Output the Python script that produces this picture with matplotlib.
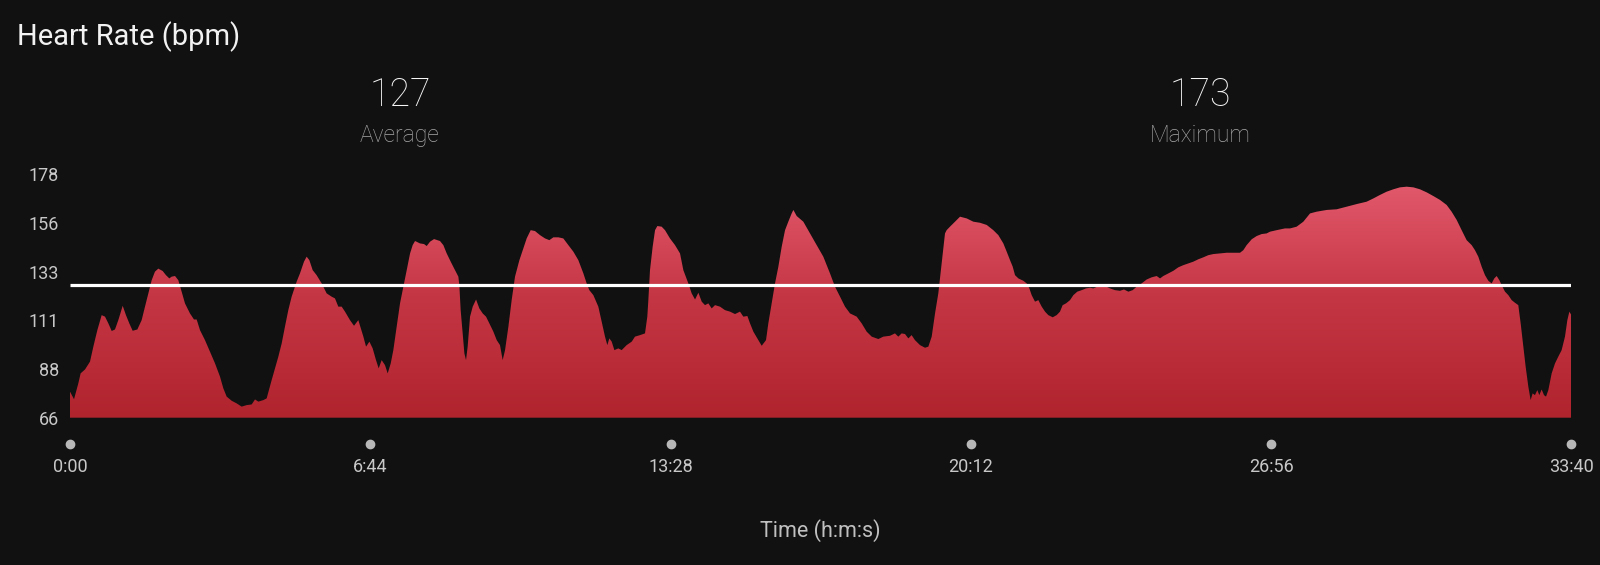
import numpy as np
import matplotlib.pyplot as plt
from matplotlib.colors import LinearSegmentedColormap
from matplotlib.patches import PathPatch
from matplotlib.transforms import blended_transform_factory

# heart rate samples (seconds, bpm)
time_s = [0, 5.4, 11.2, 14.3, 20.2, 26.9, 31.4, 36.8, 42.6, 47.1, 51.6, 56.1, 60.5, 65.0,
          70.9, 75.3, 79.8, 84.3, 90.6, 96.4, 100.9, 105.4, 109.9, 114.3, 118.8, 124.7,
          129.1, 133.6, 136.8, 141.3, 145.7, 150.2, 154.7, 161.4, 166.8, 170.4, 174.9,
          181.6, 188.3, 195.1, 201.8, 206.3, 210.8, 217.5, 224.2, 230.9, 237.7, 244.4,
          248.9, 253.4, 260.1, 264.6, 271.3, 275.8, 280.3, 284.8, 289.2, 293.7, 298.2,
          304.9, 309.4, 314.8, 318.4, 322.0, 326.5, 331.8, 338.6, 345.3, 352.0, 356.5,
          361.0, 365.5, 370.0, 376.7, 382.1, 387.9,
          394.7, 398.3, 402.8, 407.2, 411.7, 415.3, 419.3, 423.8, 427.4, 431.5, 435.0,
          439.5, 444.0, 448.5, 453.0, 457.5, 461.0, 464.2, 470.9, 476.3, 479.9, 484.4,
          489.8, 497.8, 502.3, 506.8, 512.2, 518.0, 522.5, 523.8, 525.6, 528.3, 530.6,
          532.8, 535.0, 538.2, 541.8, 546.3, 550.7, 555.2, 559.7, 564.2, 569.6, 574.1,
          578.5, 582.1, 585.3, 589.8, 594.2, 598.7, 604.6, 609.9, 614.4, 619.8, 625.6,
          632.4, 639.1, 644.9, 650.3, 657.0, 663.7, 670.5, 677.2, 683.9, 690.7, 695.1,
          698.7, 704.1, 710.8, 715.3, 719.8, 722.9, 725.6, 728.8, 732.4, 737.7, 742.2,
          748.9, 755.7, 760.1, 766.9, 773.6, 776.7, 778.1, 780.3, 783.9, 787.1, 790.2,
          796.0, 800.5, 807.2, 814.0, 820.7,
          825.2, 831.9, 836.4, 840.9, 845.4, 849.9, 854.3, 858.8, 863.3, 867.8, 874.5,
          881.2, 888.0, 894.7, 901.4, 905.9, 911.3, 914.9, 919.4, 924.7, 930.6, 936.4,
          939.5, 944.0, 948.5, 953.0, 957.5, 962.0, 966.4, 970.9, 973.2, 977.7, 986.6,
          995.6, 1004.6, 1013.5, 1022.5, 1029.2, 1036.0, 1042.7, 1049.4, 1058.4, 1065.1,
          1071.8, 1078.6, 1087.5, 1094.2, 1103.2, 1109.9, 1114.4, 1118.9, 1123.4, 1127.9,
          1132.3, 1136.8, 1143.6, 1150.3, 1154.8, 1159.3, 1163.8, 1168.2, 1172.7, 1177.2,
          1179.4, 1183.9, 1190.7, 1197.4,
          1206.4, 1215.3, 1224.3, 1233.3, 1242.2, 1249.0, 1255.7, 1260.2, 1264.7, 1268.3,
          1271.4, 1275.9, 1282.6, 1287.1, 1290.7, 1293.8, 1298.3, 1302.8, 1307.3, 1311.8,
          1316.2, 1322.1, 1327.4, 1331.9, 1335.5, 1340.0, 1345.4, 1349.9, 1355.2, 1361.1,
          1366.9, 1372.3, 1376.8, 1382.2, 1388.0, 1392.5, 1399.2, 1405.9, 1412.6, 1418.0,
          1423.9, 1429.7, 1435.1, 1441.8, 1448.5, 1455.2, 1462.0, 1466.5, 1470.9, 1477.7,
          1484.4, 1491.1, 1497.9, 1504.6, 1511.3, 1518.0, 1524.8, 1531.5, 1538.2, 1547.2,
          1556.1, 1565.1, 1574.1, 1578.6, 1583.0, 1589.8, 1596.5, 1603.2, 1609.9,
          1614.5, 1623.4, 1634.6, 1641.4, 1650.3, 1659.3, 1668.3, 1677.2, 1690.7, 1704.1,
          1717.6, 1731.0, 1744.5, 1753.5, 1762.4, 1771.4, 1780.4, 1789.3, 1798.3, 1807.3,
          1816.2, 1825.2, 1834.2, 1843.2, 1852.1, 1858.8, 1865.6, 1872.3, 1879.0, 1885.8,
          1890.2, 1894.7, 1899.2, 1903.7, 1908.2, 1912.7, 1916.2, 1919.4, 1923.0, 1926.1,
          1930.6, 1935.1, 1939.6, 1944.0, 1948.5, 1951.7, 1955.3, 1958.4, 1962.0, 1965.1,
          1967.8, 1970.9, 1974.1, 1976.8, 1979.9, 1983.1, 1985.8, 1988.9, 1993.4, 1997.9,
          2002.3, 2006.8, 2011.3, 2014.5, 2017.2, 2020.0]
hr_bpm = [78.0, 74.5, 81.8, 86.4, 88.2, 91.8, 98.7, 106.3, 113.2, 112.5, 109.4, 105.9, 106.6, 110.9,
          117.5, 113.2, 109.4, 106.0, 106.6, 110.9, 117.1, 123.2, 129.3, 133.2, 134.6, 133.5,
          131.6, 130.1, 130.9, 131.2, 129.3, 124.0, 118.6, 114.0, 111.2, 111.2, 106.3,
          101.7, 96.4, 91.0, 84.9, 79.5, 75.7, 73.8, 72.6, 71.1, 71.8, 72.1,
          74.4, 73.4, 74.1, 74.9, 83.3, 88.7, 94.1, 100.2, 107.9, 115.5, 121.7,
          128.6, 132.4, 137.8, 140.1, 138.5, 133.9, 131.6, 127.8, 123.2, 121.7, 120.9,
          117.1, 117.1, 114.8, 110.9, 108.3, 110.9,
          103.3, 98.7, 101.0, 97.9, 92.5, 88.7, 92.5, 90.2, 86.4, 91.0, 97.1,
          107.9, 118.6, 126.3, 133.9, 141.6, 145.4, 147.3, 146.2, 145.9, 145.0, 147.0,
          148.2, 147.3, 145.4, 141.6, 137.8, 133.9, 130.9, 127.0, 115.5, 104.8, 95.6,
          92.5, 98.7, 112.5, 117.1, 120.4, 116.3, 114.0, 112.5, 109.4, 105.6, 101.7,
          99.4, 92.5, 97.1, 107.9, 120.1, 130.9, 138.5, 143.9, 148.5, 152.3, 151.9,
          150.0, 148.5, 147.7, 149.0, 149.0, 148.5, 145.4, 142.4, 138.5, 132.4, 127.8,
          124.7, 122.4, 117.1, 110.2, 103.3, 99.4, 102.5, 101.0, 97.1, 97.9, 97.1,
          99.4, 101.0, 103.3, 104.0, 104.8, 112.5, 120.1, 133.9, 144.7, 152.3, 154.2,
          153.9, 152.3, 148.5, 145.4, 141.6,
          133.9, 127.8, 123.2, 120.4, 123.5, 119.4, 117.8, 118.6, 116.3, 117.8, 117.1,
          115.5, 114.8, 113.7, 114.8, 112.5, 112.8, 109.4, 105.6, 102.5, 99.1, 101.7,
          109.4, 118.6, 127.8, 135.5, 144.7, 152.3, 156.2, 160.0, 161.6, 158.8, 156.2,
          150.8, 145.4, 140.1, 132.4, 126.3, 121.7, 117.1, 114.0, 112.5, 109.4,
          105.6, 103.3, 102.2, 103.3, 103.7, 104.8, 103.3, 104.8, 104.5, 102.5,
          104.0, 101.7, 99.4, 98.2, 98.7, 103.3, 114.0, 123.2, 137.0, 150.8,
          152.3, 153.9, 156.2, 158.5,
          157.7, 156.2, 155.7, 154.7, 152.3, 150.0, 146.2, 142.4, 138.5, 135.5,
          131.6, 130.1, 129.0, 127.8, 125.5, 122.4, 119.4, 120.1, 117.1, 114.8,
          113.2, 112.2, 113.2, 114.8, 117.8, 118.6, 120.1, 122.4, 124.0, 124.7,
          125.5, 125.8, 125.5, 126.3, 127.0, 126.6, 125.5, 124.7, 124.4, 125.0,
          124.0, 124.7, 126.3, 127.8, 129.6, 130.6, 131.2, 130.1, 131.2, 132.4,
          133.6, 135.2, 136.2, 137.0, 137.8, 138.9, 139.8, 140.8, 141.3, 141.6,
          141.9, 141.9, 141.9, 143.1, 145.4, 148.1, 149.6, 150.5, 150.8,
          151.6, 152.3, 153.1, 153.1, 153.9, 156.2, 160.0, 160.8, 161.6, 161.9,
          163.1, 164.3, 165.4, 166.9, 168.5, 170.0, 171.1, 172.0, 172.3, 172.0,
          171.1, 169.7, 168.0, 166.2, 163.9, 160.8, 157.0, 152.3, 147.7, 145.4,
          143.1, 140.1, 135.5, 131.6, 129.0, 127.8, 130.1, 131.2, 129.3, 127.0,
          124.0, 122.4, 120.1, 118.9, 117.8, 109.4, 98.7, 89.5, 80.3, 74.1,
          77.2, 76.4, 78.7, 76.4, 79.0, 76.4, 75.7, 78.7, 86.4, 91.0,
          94.1, 97.1, 103.3, 110.9, 114.8, 113.2]

avg_hr = 127
max_hr = 173
y_min, y_max = 66, 178
x_ticks = [0, 404, 808, 1212, 1616, 2020]
x_labels = ['0:00', '6:44', '13:28', '20:12', '26:56', '33:40']

bg = '#111111'
plt.rcParams['font.family'] = ['Roboto', 'DejaVu Sans']

fig = plt.figure(figsize=(16, 5.65), dpi=100, facecolor=bg)
ax = fig.add_axes([0.04375, 0.2607, 0.9384, 0.4308])
ax.set_facecolor(bg)

# gradient fill clipped to the area under the curve
cmap = LinearSegmentedColormap.from_list('hr', ['#B0242E', '#C53644', '#E55C70'])
grad = np.linspace(0, 1, 256).reshape(-1, 1)
im = ax.imshow(grad, extent=[0, 2020, y_min, y_max], origin='lower', aspect='auto',
               cmap=cmap, zorder=1)
poly = ax.fill_between(time_s, y_min, hr_bpm, color='none', lw=0)
clip = PathPatch(poly.get_paths()[0], transform=ax.transData, facecolor='none', edgecolor='none')
ax.add_patch(clip)
im.set_clip_path(clip)

# average line
ax.plot([0, 2020], [avg_hr, avg_hr], color='white', lw=2.3, zorder=3, solid_capstyle='butt')

ax.set_xlim(0, 2020)
ax.set_ylim(y_min, y_max)
for s in ax.spines.values():
    s.set_visible(False)

yt = np.linspace(y_min, y_max, 6)
ax.set_yticks(yt)
ax.set_yticklabels([f'{v:.0f}' for v in yt])
ax.tick_params(axis='y', length=0, pad=8, labelsize=13, labelcolor='#C8C8C8')
ax.set_xticks(x_ticks)
ax.set_xticklabels(x_labels)
ax.tick_params(axis='x', length=0, pad=29, labelsize=13, labelcolor='#C8C8C8')

# dots above the time labels
trans = blended_transform_factory(ax.transData, ax.transAxes)
ax.scatter(x_ticks, [-0.108] * len(x_ticks), s=36, color='#B8B8B8', transform=trans,
           clip_on=False, zorder=3)

ax.set_xlabel('Time (h:m:s)', fontsize=15.5, color='#C0C0C0', labelpad=31)

fig.text(0.0106, 1 - 45 / 565, 'Heart Rate (bpm)', fontsize=21, color='#F2F2F2',
         va='baseline', ha='left')
for xc, val, name in [(0.25, avg_hr, 'Average'), (0.75, max_hr, 'Maximum')]:
    fig.text(xc, 1 - 106.5 / 565, str(val), fontsize=27, color='#F5F5F5', ha='center',
             va='baseline', fontweight='light')
    fig.text(xc, 1 - 141.7 / 565, name, fontsize=16.5, color='#A8A8A8', ha='center',
             va='baseline', fontweight='light')

fig.savefig('out.png', dpi=100, facecolor=bg)
